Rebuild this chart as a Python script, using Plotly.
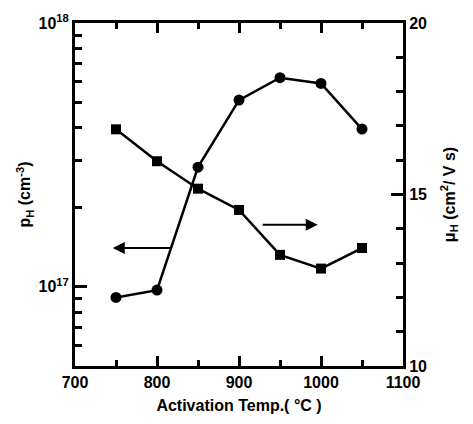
import math
import plotly.graph_objects as go

# Data
temps = [750, 800, 850, 900, 950, 1000, 1050]
p_h = [9.1e16, 9.7e16, 2.84e17, 5.1e17, 6.2e17, 5.9e17, 3.96e17]
mu_h = [16.90, 15.97, 15.17, 14.55, 13.24, 12.84, 13.44]

x_ticks = [700, 800, 900, 1000, 1100]
y_major_ticks = [1e17, 1e18]
y_major_text = ["10<sup>17</sup>", "10<sup>18</sup>"]
y_minor_ticks = [float(k) * 10.0 ** e for e in (16, 17) for k in range(5, 10)] + \
                [float(k) * 1e17 for k in range(2, 5)]
y2_ticks = [10, 15, 20]

# arrow annotations (data coordinates): left arrow -> p_H axis, right arrow -> mu_H axis
left_arrow_x = [818, 746]
left_arrow_y = 1.4e17
right_arrow_x = [927, 996]
right_arrow_y = 14.12

font = dict(family="Liberation Sans", size=16, color="black", weight="bold")
yrange = [math.log10(5e16), 18]

fig = go.Figure()
fig.add_trace(go.Scatter(x=temps, y=p_h, mode="lines+markers",
                         line=dict(color="black", width=2.5),
                         marker=dict(symbol="circle", size=11, color="black"),
                         yaxis="y", showlegend=False))
fig.add_trace(go.Scatter(x=temps, y=mu_h, mode="lines+markers",
                         line=dict(color="black", width=2.5),
                         marker=dict(symbol="square", size=10, color="black"),
                         yaxis="y2", showlegend=False))
fig.add_trace(go.Scatter(x=temps, y=p_h, mode="markers", marker=dict(opacity=0),
                         yaxis="y3", showlegend=False, hoverinfo="skip"))

ly = math.log10(left_arrow_y)
fig.add_annotation(x=left_arrow_x[1], y=ly, ax=left_arrow_x[0], ay=ly,
                   xref="x", yref="y", axref="x", ayref="y",
                   showarrow=True, arrowhead=2, arrowsize=1.2, arrowwidth=2, arrowcolor="black", text="")
fig.add_annotation(x=right_arrow_x[1], y=right_arrow_y, ax=right_arrow_x[0], ay=right_arrow_y,
                   xref="x", yref="y2", axref="x", ayref="y2",
                   showarrow=True, arrowhead=2, arrowsize=1.2, arrowwidth=2, arrowcolor="black", text="")

fig.update_layout(
    width=473, height=424,
    margin=dict(l=75, r=70, t=16, b=56),
    paper_bgcolor="white", plot_bgcolor="white",
    font=font,
    xaxis=dict(range=[700, 1100], tickvals=x_ticks, ticks="inside", ticklen=10, tickwidth=3,
               tickcolor="black",
               showline=True, linewidth=3, linecolor="black", mirror="ticks", showgrid=False,
               zeroline=False,
               minor=dict(dtick=50, tick0=700, ticks="inside", ticklen=6, tickwidth=3,
                          tickcolor="black", showgrid=False),
               title=dict(text="Activation Temp.( °C )", font=font, standoff=10),
               tickfont=font),
    yaxis=dict(type="log", range=yrange, tickmode="array",
               tickvals=y_major_ticks + y_minor_ticks,
               ticktext=y_major_text + [""] * len(y_minor_ticks),
               ticks="inside", ticklen=7, tickwidth=3, tickcolor="black",
               showline=True, linewidth=3, linecolor="black", showgrid=False, zeroline=False,
               title=dict(text="p<sub>H</sub> (cm<sup>-3</sup>)", font=font, standoff=4),
               tickfont=font),
    yaxis3=dict(type="log", range=yrange, overlaying="y", side="left", tickmode="array",
                tickvals=y_major_ticks, ticktext=["", ""],
                ticks="inside", ticklen=12, tickwidth=3, tickcolor="black",
                showline=False, showgrid=False, zeroline=False),
    yaxis2=dict(overlaying="y", side="right", range=[10, 20], tickvals=y2_ticks,
                ticks="inside", ticklen=12, tickwidth=3, tickcolor="black",
                showline=True, linewidth=3, linecolor="black", showgrid=False, zeroline=False,
                minor=dict(dtick=1, tick0=10, ticks="inside", ticklen=7, tickwidth=3,
                           tickcolor="black", showgrid=False),
                title=dict(text="μ<sub>H</sub> (cm<sup>2</sup>/ V s)", font=font, standoff=18),
                tickfont=font),
)

fig.write_html("out.html")
